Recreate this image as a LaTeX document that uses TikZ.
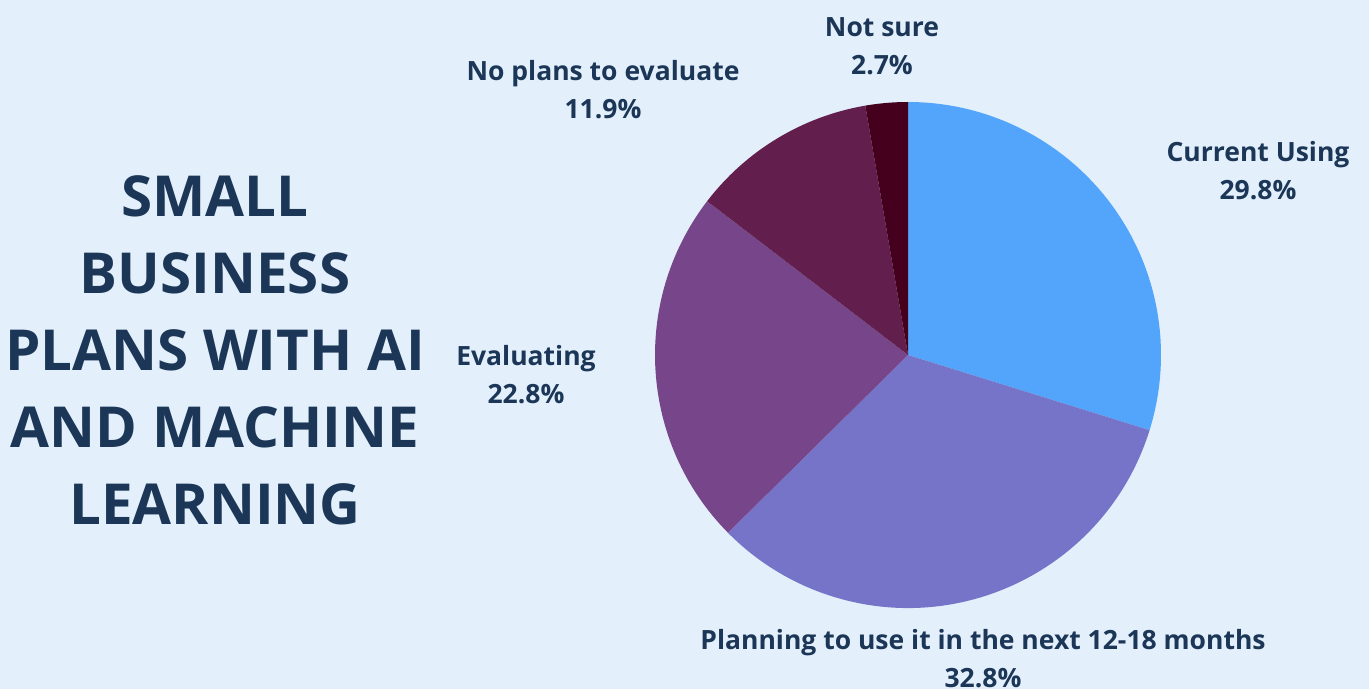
\documentclass[tikz,border=0pt]{standalone}
\usepackage{fontspec}
\setmainfont{Open Sans}
\usepackage{tikz}
\definecolor{bgblue}{HTML}{E3F0FC}
\definecolor{navy}{HTML}{1B3656}
\definecolor{curuse}{HTML}{52A5FA}
\definecolor{planuse}{HTML}{7674C8}
\definecolor{evaluate}{HTML}{77468A}
\definecolor{noplans}{HTML}{621F4D}
\definecolor{notsure}{HTML}{45001E}
\tikzstyle{slicelabel}=[align=center,text=navy,font=\fontsize{26.5}{38}\selectfont\bfseries,inner sep=0pt]
\tikzstyle{heading}=[align=center,text=navy,font=\fontsize{56.5}{77}\selectfont\bfseries,inner sep=0pt]

\begin{document}
\begin{tikzpicture}[x=1pt,y=1pt]
    % Background and page size
    \fill[bgblue] (0,0) rectangle (1369,689);
    \useasboundingbox (0,0) rectangle (1369,689);
    
    % Title on the left
    \node[heading] (title) at (215,339) {SMALL\\BUSINESS\\PLANS WITH AI\\AND MACHINE\\LEARNING};
    
    % Pie slices, clockwise from the top
    \coordinate (centre) at (908,334);
    \foreach \from/\to/\col in {90/-17.28/curuse, -17.28/-135.36/planuse, -135.36/-217.44/evaluate, -217.44/-260.28/noplans, -260.28/-270/notsure}
        \fill[\col] (centre) -- ++(\from:253) arc[start angle=\from, end angle=\to, radius=253] -- cycle;
    
    % Labels of the slices
    \foreach \pos/\name/\txt in {{(882,643)/lblnotsure/Not sure\\2.7\%}, {(603,599)/lblnoplans/No plans to evaluate\\11.9\%}, {(1258,518)/lblcuruse/Current Using\\29.8\%}, {(526,314)/lblevaluate/Evaluating\\22.8\%}, {(983,30)/lblplanuse/Planning to use it in the next 12-18 months\\32.8\%}}
        \node[slicelabel] (\name) at \pos {\txt};
        
\end{tikzpicture}
\end{document}
